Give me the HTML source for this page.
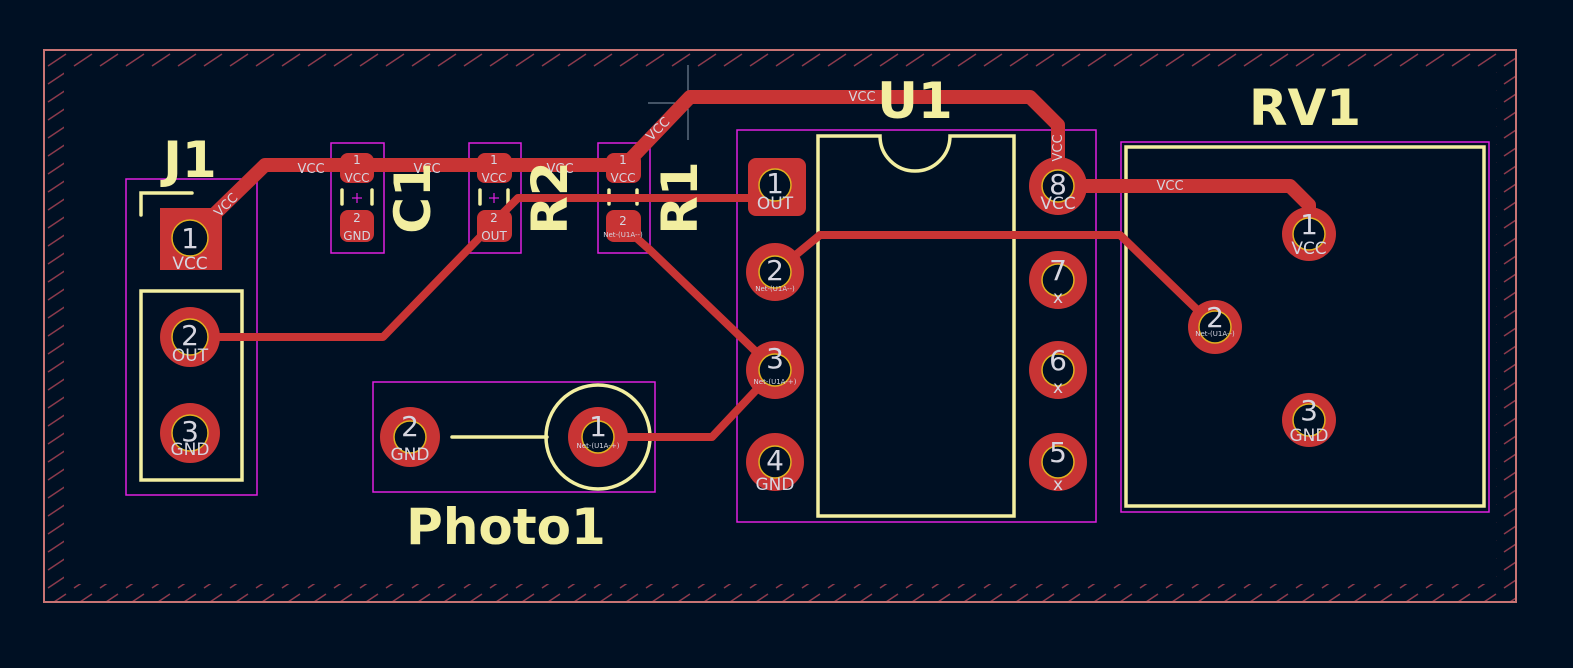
<!DOCTYPE html>
<html><head><style>
html,body{margin:0;padding:0;background:#001023;}
svg{display:block}
text{font-family:"DejaVu Sans","Liberation Sans",sans-serif}
</style></head><body>
<svg width="1573" height="668" viewBox="0 0 1573 668" xmlns="http://www.w3.org/2000/svg">
<defs>
<pattern id="h" patternUnits="userSpaceOnUse" width="26" height="18" x="44" y="50">
<line x1="4" y1="16" x2="22" y2="4" stroke="#8c3a4c" stroke-width="1.5"/>
</pattern>
</defs>
<rect width="1573" height="668" fill="#001023"/>
<rect x="45" y="51" width="1470" height="550" fill="url(#h)"/>
<rect x="64" y="70" width="1432" height="514" fill="#001023"/>
<rect x="44" y="50" width="1472" height="552" fill="none" stroke="#c87474" stroke-width="2"/>
<line x1="648" y1="103" x2="728" y2="103" stroke="#8899aa" stroke-width="1"/>
<line x1="688" y1="65" x2="688" y2="140" stroke="#8899aa" stroke-width="1"/>

<g fill="none" stroke="#e020e0" stroke-width="1.5">
<rect x="126" y="179" width="131" height="316"/>
<rect x="331" y="143" width="53" height="110"/>
<rect x="469" y="143" width="52" height="110"/>
<rect x="598" y="143" width="52" height="110"/>
<rect x="737" y="130" width="359" height="392"/>
<rect x="1121" y="142" width="368" height="370"/>
<rect x="373" y="382" width="282" height="110"/>
</g>

<g fill="none" stroke="#f2eea0" stroke-width="3.5" stroke-linecap="round">
<polyline points="141,215 141,193 192,193"/>
<rect x="141" y="291" width="101" height="189"/>
<path d="M818,136 H880 A35,35 0 0 0 950,136 H1014 V516 H818 Z"/>
<rect x="1126" y="147" width="358" height="359"/>
<line x1="452" y1="437" x2="547" y2="437"/>
<circle cx="598" cy="437" r="52"/>
<line x1="342" y1="190" x2="342" y2="204"/><line x1="372" y1="190" x2="372" y2="204"/>
<line x1="480" y1="190" x2="480" y2="204"/><line x1="508" y1="190" x2="508" y2="204"/>
<line x1="609" y1="190" x2="609" y2="204"/><line x1="637" y1="190" x2="637" y2="204"/>
</g>
<g stroke="#e020e0" stroke-width="1.2">
<line x1="352" y1="198" x2="362" y2="198"/><line x1="357" y1="193" x2="357" y2="203"/>
<line x1="489" y1="198" x2="499" y2="198"/><line x1="494" y1="193" x2="494" y2="203"/>
</g>

<g fill="none" stroke="#c83434" stroke-linejoin="round" stroke-linecap="round">
<polyline stroke-width="14" points="190,238 265,165 625,165 690,97 1030,97 1058,125 1058,183"/>
<polyline stroke-width="14" points="1058,186 1290,186 1309,205 1309,234"/>
<polyline stroke-width="8" points="190,337 383,337 485,232"/>
<polyline stroke-width="8" points="494,222 518,198 775,198"/>
<polyline stroke-width="8" points="775,272 820,235 1120,235 1215,327"/>
<polyline stroke-width="8" points="623,226 650,250 775,370"/>
<polyline stroke-width="8" points="775,370 712,437 598,437"/>
</g>

<g fill="#c83434">
<rect x="160" y="208" width="62" height="62"/>
<circle cx="190" cy="337" r="30"/><circle cx="190" cy="433" r="30"/>
<rect x="340" y="153" width="34" height="30" rx="8"/><rect x="340" y="210" width="34" height="32" rx="8"/>
<rect x="477" y="153" width="35" height="30" rx="8"/><rect x="477" y="210" width="35" height="32" rx="8"/>
<rect x="606" y="153" width="35" height="30" rx="8"/><rect x="606" y="210" width="35" height="32" rx="8"/>
<rect x="748" y="158" width="58" height="58" rx="8"/>
<circle cx="775" cy="272" r="29"/><circle cx="775" cy="370" r="29"/><circle cx="775" cy="462" r="29"/>
<circle cx="1058" cy="186" r="29"/><circle cx="1058" cy="280" r="29"/><circle cx="1058" cy="370" r="29"/><circle cx="1058" cy="462" r="29"/>
<circle cx="1309" cy="234" r="27"/><circle cx="1215" cy="327" r="27"/><circle cx="1309" cy="420" r="27"/>
<circle cx="410" cy="437" r="30"/><circle cx="598" cy="437" r="30"/>
</g>
<g fill="#001023" stroke="#e0b020" stroke-width="1.5">
<circle cx="190" cy="238" r="18"/><circle cx="190" cy="337" r="18"/><circle cx="190" cy="433" r="18"/>
<circle cx="775" cy="185" r="16"/><circle cx="775" cy="272" r="16"/><circle cx="775" cy="370" r="16"/><circle cx="775" cy="462" r="16"/>
<circle cx="1058" cy="186" r="16"/><circle cx="1058" cy="280" r="16"/><circle cx="1058" cy="370" r="16"/><circle cx="1058" cy="462" r="16"/>
<circle cx="1309" cy="234" r="16"/><circle cx="1215" cy="327" r="16"/><circle cx="1309" cy="420" r="16"/>
<circle cx="410" cy="437" r="16"/><circle cx="598" cy="437" r="16"/>
</g>

<g fill="#d6d6e0" text-anchor="middle">
<g font-size="28"><text x="190" y="248">1</text><text x="190" y="345">2</text><text x="190" y="441">3</text>
<text x="775" y="193">1</text><text x="775" y="280">2</text><text x="775" y="368">3</text><text x="775" y="470">4</text>
<text x="1058" y="194">8</text><text x="1058" y="280">7</text><text x="1058" y="370">6</text><text x="1058" y="462">5</text>
<text x="1309" y="234">1</text><text x="1215" y="327">2</text><text x="1309" y="420">3</text>
<text x="410" y="436">2</text><text x="598" y="436">1</text></g>
<g font-size="17"><text x="190" y="269">VCC</text><text x="190" y="361">OUT</text><text x="190" y="455">GND</text>
<text x="775" y="209">OUT</text><text x="775" y="490">GND</text><text x="1058" y="209">VCC</text>
<text x="1058" y="303">x</text><text x="1058" y="393">x</text><text x="1058" y="490">x</text>
<text x="1309" y="254">VCC</text><text x="1309" y="441">GND</text><text x="410" y="460">GND</text></g>
<g font-size="7"><text x="775" y="291">Net-(U1A--)</text><text x="775" y="384">Net-(U1A-+)</text>
<text x="1215" y="336">Net-(U1A--)</text><text x="598" y="448">Net-(U1A-+)</text><text x="623" y="237">Net-(U1A--)</text></g>
<g font-size="12"><text x="357" y="164">1</text><text x="357" y="182">VCC</text><text x="357" y="222">2</text><text x="357" y="240">GND</text>
<text x="494" y="164">1</text><text x="494" y="182">VCC</text><text x="494" y="222">2</text><text x="494" y="240">OUT</text>
<text x="623" y="164">1</text><text x="623" y="182">VCC</text><text x="623" y="225">2</text></g>
<g font-size="13"><text x="311" y="173">VCC</text><text x="427" y="173">VCC</text><text x="560" y="173">VCC</text>
<text x="862" y="101">VCC</text><text x="1170" y="190">VCC</text>
<text transform="translate(229,208) rotate(-45)">VCC</text>
<text transform="translate(661,132) rotate(-45)">VCC</text>
<text transform="translate(1062,148) rotate(-90)">VCC</text></g>
</g>

<g fill="#f2eea0" text-anchor="middle" font-size="50" font-weight="bold">
<text x="190" y="177">J1</text>
<text x="915" y="118">U1</text>
<text x="1305" y="125">RV1</text>
<text x="506" y="544">Photo1</text>
<text transform="translate(430,198) rotate(-90)">C1</text>
<text transform="translate(567,198) rotate(-90)">R2</text>
<text transform="translate(697,198) rotate(-90)">R1</text>
</g>
</svg>
</body></html>
